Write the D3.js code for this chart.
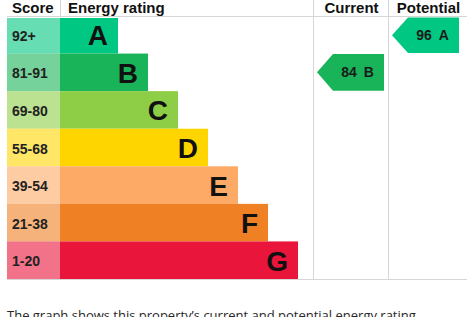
<!DOCTYPE html>
<html>
<head>
<meta charset="utf-8">
<script src="https://cdn.jsdelivr.net/npm/d3@7"></script>
<style>
  body { margin: 0; background: #fff; }
  svg { display: block; }
</style>
</head>
<body>
<div id="epc"></div>
<script>
// bands, score ranges and colours
var bands = ["A", "B", "C", "D", "E", "F", "G"];
var ranges = ["92+", "81-91", "69-80", "55-68", "39-54", "21-38", "1-20"];
var colors = ["#00c781", "#19b459", "#8dce46", "#ffd500", "#fcaa65", "#ef8023", "#e9153b"];

// current and potential ratings
var current = { score: 84, band: "B" };
var potential = { score: 96, band: "A" };

var W = 476, H = 317;
var gridColor = "#d6d6d6";
var headFont = "'Liberation Sans', Arial, sans-serif";

var svg = d3.select("#epc")
  .append("svg")
  .attr("width", W)
  .attr("height", H);

// columns
var colScore = 7, colBar = 60, colCur = 313, colPot = 388, colEnd = 467;

// rows
var y = d3.scaleBand()
  .domain(bands)
  .range([16, 279]);

// bar end by band index
var x = d3.scaleLinear()
  .domain([0, bands.length - 1])
  .range([118, 298]);

var rows = bands.map(function (b, i) {
  return { band: b, range: ranges[i], color: colors[i], i: i };
});

// score cells (lighter)
svg.selectAll(".scoreCell")
  .data(rows)
  .enter()
  .append("rect")
  .attr("class", "scoreCell")
  .attr("x", colScore)
  .attr("y", function (d) { return d.i == 0 ? y(d.band) + 2 : y(d.band); })
  .attr("width", colBar - colScore)
  .attr("height", function (d) { return d.i == 0 ? y.bandwidth() - 2 : y.bandwidth(); })
  .style("fill", function (d) { return d.color; })
  .style("fill-opacity", 0.6);

// bars
svg.selectAll(".bar")
  .data(rows)
  .enter()
  .append("rect")
  .attr("class", "bar")
  .attr("x", colBar)
  .attr("y", function (d) { return d.i == 0 ? y(d.band) + 2 : y(d.band); })
  .attr("width", function (d) { return x(d.i) - colBar; })
  .attr("height", function (d) { return d.i == 0 ? y.bandwidth() - 2 : y.bandwidth(); })
  .style("fill", function (d) { return d.color; });

// score labels
svg.selectAll(".scoreLabel")
  .data(rows)
  .enter()
  .append("text")
  .attr("x", colScore + 5)
  .attr("y", function (d) { return y(d.band) + y.bandwidth() / 2 + 6; })
  .style("font-family", headFont)
  .style("font-weight", "bold")
  .style("font-size", "14px")
  .style("fill", "#222")
  .text(function (d) { return d.range; });

// band letters
svg.selectAll(".letter")
  .data(rows)
  .enter()
  .append("text")
  .attr("x", function (d) { return x(d.i) - 10; })
  .attr("y", function (d) { return y(d.band) + y.bandwidth() / 2 + 10.5; })
  .attr("text-anchor", "end")
  .style("font-family", headFont)
  .style("font-weight", "bold")
  .style("font-size", "28px")
  .style("fill", "#111")
  .text(function (d) { return d.band; });

// grid lines
svg.append("line")
  .attr("x1", colScore).attr("x2", colEnd)
  .attr("y1", 16.5).attr("y2", 16.5)
  .style("stroke", gridColor);
svg.append("line")
  .attr("x1", colScore).attr("x2", colEnd)
  .attr("y1", 279.5).attr("y2", 279.5)
  .style("stroke", gridColor);
svg.append("line")
  .attr("x1", colBar + 0.5).attr("x2", colBar + 0.5)
  .attr("y1", 0).attr("y2", 16)
  .style("stroke", gridColor);
[colCur, colPot].forEach(function (cx) {
  svg.append("line")
    .attr("x1", cx + 0.5).attr("x2", cx + 0.5)
    .attr("y1", 0).attr("y2", 279)
    .style("stroke", gridColor);
});

// headers
var headers = [
  { t: "Score", x: colScore + 5, a: "start" },
  { t: "Energy rating", x: colBar + 8, a: "start" },
  { t: "Current", x: (colCur + colPot) / 2 + 1, a: "middle" },
  { t: "Potential", x: (colPot + colEnd) / 2 + 1, a: "middle" }
];
svg.selectAll(".head")
  .data(headers)
  .enter()
  .append("text")
  .attr("x", function (d) { return d.x; })
  .attr("y", 13)
  .attr("text-anchor", function (d) { return d.a; })
  .style("font-family", headFont)
  .style("font-weight", "bold")
  .style("font-size", "15px")
  .style("fill", "#111")
  .text(function (d) { return d.t; });

// arrows
function arrow(rating, colX) {
  var bi = bands.indexOf(rating.band);
  var top = y(rating.band) + (bi == 0 ? 1.5 : 0.5);
  var bot = y(rating.band) + y.bandwidth() - 0.5;
  var left = colX + 4, right = left + 67, tip = 16;
  var mid = (top + bot) / 2;
  var pts = [[left, mid], [left + tip, top], [right, top], [right, bot], [left + tip, bot]];
  svg.append("path")
    .attr("d", d3.line()(pts) + "Z")
    .style("fill", colors[bi]);
  svg.append("text")
    .attr("x", (left + tip + right) / 2 - 1)
    .attr("y", mid + 5)
    .attr("text-anchor", "middle")
    .style("font-family", headFont)
    .style("font-weight", "bold")
    .style("font-size", "14px")
    .style("fill", "#1a1a1a")
    .text(rating.score + "\u2002" + rating.band);
}
arrow(current, colCur);
arrow(potential, colPot);

// caption
svg.append("text")
  .attr("x", 7)
  .attr("y", 320)
  .style("font-family", "'Open Sans', sans-serif")
  .style("font-size", "13px")
  .style("fill", "#262626")
  .text("The graph shows this property\u2019s current and potential energy rating.");
</script>
</body>
</html>
